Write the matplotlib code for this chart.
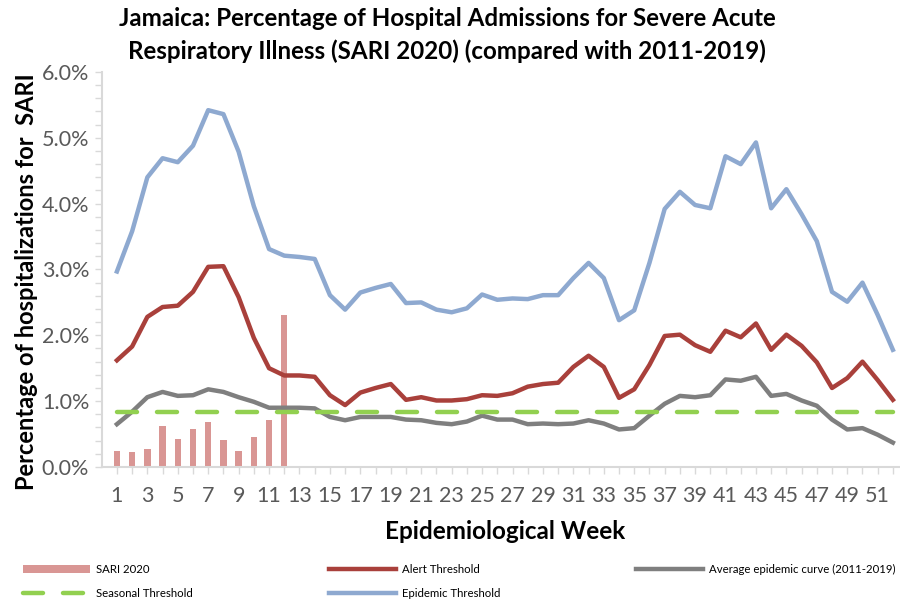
import matplotlib.pyplot as plt
from matplotlib.ticker import FuncFormatter, MultipleLocator

plt.rcParams['font.family'] = ['Lato', 'DejaVu Sans']

weeks = list(range(1, 53))

# SARI 2020 (weeks 1-12 reported so far)
sari_2020 = [0.25, 0.23, 0.28, 0.63, 0.42, 0.57, 0.69, 0.41, 0.24, 0.45, 0.72, 2.31]

alert_threshold = [1.62, 1.83, 2.28, 2.43, 2.45, 2.66, 3.04, 3.05, 2.58, 1.96,
                   1.50, 1.39, 1.39, 1.37, 1.09, 0.94, 1.13, 1.20, 1.26, 1.02,
                   1.06, 1.01, 1.01, 1.03, 1.09, 1.08, 1.12, 1.22, 1.26, 1.28,
                   1.52, 1.69, 1.52, 1.05, 1.18, 1.55, 1.99, 2.01, 1.85, 1.75,
                   2.07, 1.97, 2.18, 1.78, 2.01, 1.84, 1.59, 1.20, 1.35, 1.60,
                   1.32, 1.02]

average_curve = [0.65, 0.84, 1.06, 1.14, 1.08, 1.09, 1.18, 1.14, 1.06, 0.99,
                 0.90, 0.90, 0.90, 0.89, 0.76, 0.71, 0.76, 0.76, 0.76, 0.72,
                 0.71, 0.67, 0.65, 0.69, 0.78, 0.72, 0.72, 0.65, 0.66, 0.65,
                 0.66, 0.71, 0.66, 0.57, 0.59, 0.78, 0.96, 1.08, 1.06, 1.09,
                 1.33, 1.31, 1.37, 1.08, 1.11, 1.01, 0.93, 0.72, 0.57, 0.59,
                 0.49, 0.37]

epidemic_threshold = [2.97, 3.58, 4.40, 4.69, 4.63, 4.88, 5.42, 5.36, 4.79, 3.96,
                      3.31, 3.21, 3.19, 3.16, 2.61, 2.39, 2.65, 2.72, 2.78, 2.49,
                      2.50, 2.39, 2.35, 2.41, 2.62, 2.54, 2.56, 2.55, 2.61, 2.61,
                      2.87, 3.10, 2.87, 2.23, 2.38, 3.10, 3.92, 4.18, 3.98, 3.93,
                      4.72, 4.60, 4.93, 3.93, 4.22, 3.84, 3.43, 2.66, 2.51, 2.80,
                      2.31, 1.78]

seasonal_threshold = [0.83] * 52

tick_grey = '#595959'
axis_grey = '#D9D9D9'

fig = plt.figure(figsize=(9, 6), dpi=100)
ax = fig.add_axes([0.113, 0.2217, 0.896, 0.6583])

bars = ax.bar(weeks[:len(sari_2020)], sari_2020, width=0.42, color='#D99694',
              label='SARI 2020', zorder=2)
l_alert, = ax.plot(weeks, alert_threshold, color='#A9403B', lw=3.2,
                   solid_joinstyle='round', label='Alert Threshold', zorder=3)
l_avg, = ax.plot(weeks, average_curve, color='#7F7F7F', lw=3.2,
                 solid_joinstyle='round',
                 label='Average epidemic curve (2011-2019)', zorder=3)
l_seas, = ax.plot(weeks, seasonal_threshold, color='#92D050', lw=3.2,
                  dashes=(4.5, 4.5), dash_capstyle='round',
                  label='Seasonal Threshold', zorder=4)
l_epi, = ax.plot(weeks, epidemic_threshold, color='#8EA9D0', lw=3.2,
                 solid_joinstyle='round', label='Epidemic Threshold', zorder=3)

ax.set_xlim(0, 53)
ax.set_ylim(0, 6)
ax.yaxis.set_major_locator(MultipleLocator(1))
ax.yaxis.set_minor_locator(MultipleLocator(0.2))
ax.yaxis.set_major_formatter(FuncFormatter(lambda v, _: f'{v:.1f}%'))
ax.set_xticks(weeks)
ax.set_xticklabels([str(w) if w % 2 else '' for w in weeks])

for s in ['top', 'right']:
    ax.spines[s].set_visible(False)
for s in ['left', 'bottom']:
    ax.spines[s].set_color(axis_grey)
    ax.spines[s].set_linewidth(1.5)

ax.tick_params(axis='y', which='both', length=5, width=1, color=axis_grey,
               labelcolor=tick_grey, labelsize=15.5, pad=4)
ax.tick_params(axis='x', length=5, width=1, color=axis_grey,
               labelcolor=tick_grey, labelsize=15.5, pad=9)

ax.set_xlabel('Epidemiological Week', fontsize=17.5, fontweight='bold', labelpad=10)
ax.set_ylabel('Percentage of hospitalizations for  SARI', fontsize=17,
              fontweight='bold')
ax.yaxis.set_label_coords(-0.079, 0.47)

fig.text(0.497, 0.988, 'Jamaica: Percentage of Hospital Admissions for Severe Acute\n'
         'Respiratory Illness (SARI 2020) (compared with 2011-2019)',
         ha='center', va='top', fontsize=17.4, fontweight='bold', linespacing=1.45)

# legend laid out row by row: matplotlib fills columns first, so reorder
handles = [bars, l_seas, l_alert, l_epi, l_avg]
labels = [h.get_label() for h in handles]
fig.legend(handles, labels, loc='upper left', bbox_to_anchor=(0.014, 0.077),
           ncol=3, frameon=False, fontsize=8.2, handlelength=5.9,
           columnspacing=11.9, labelspacing=1.1, handletextpad=0.55)

fig.savefig('out.png', dpi=100)
